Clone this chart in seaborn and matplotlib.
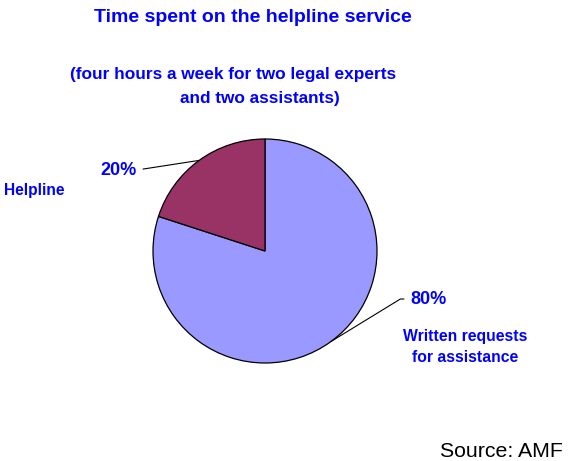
import matplotlib
matplotlib.use("Agg")
import matplotlib.pyplot as plt
import seaborn as sns
import numpy as np

labels = ["Written requests\nfor assistance", "Helpline"]
shares = [80, 20]
pct_labels = ["80%", "20%"]
colors = ["#9999FF", "#993366"]

sns.set_theme(style="white")
plt.rcParams["font.family"] = ["Liberation Sans", "DejaVu Sans"]

W, H = 568, 461
fig = plt.figure(figsize=(W / 100, H / 100), dpi=100)
fig.patch.set_facecolor("white")

def fx(x):
    return x / W

def fy(y):
    return 1 - y / H

cx, cy, r = 265, 251, 112
ax = fig.add_axes([(cx - r) / W, (H - cy - r) / H, 2 * r / W, 2 * r / H])
wedges, _ = ax.pie(shares, colors=colors, startangle=90, counterclock=False,
                   wedgeprops=dict(edgecolor="black", linewidth=0.9))
ax.set_xlim(-1.0, 1.0)
ax.set_ylim(-1.0, 1.0)
ax.set_aspect("equal")
ax.axis("off")

blue = "#0000FF"
fig.text(fx(252.5), fy(17), "Time spent on the helpline service", ha="center", va="center",
         fontsize=14, fontweight="bold", color=blue)
fig.text(fx(70), fy(74), "(four hours a week for two legal experts", ha="left", va="center",
         fontsize=12.45, fontweight="bold", color=blue)
fig.text(fx(180), fy(98), "and two assistants)", ha="left", va="center",
         fontsize=12.45, fontweight="bold", color=blue)

# leader lines to wedge mid-angles
mids = [np.deg2rad((w.theta1 + w.theta2) / 2) for w in wedges]
# 80%
a = mids[0]
ax.annotate(pct_labels[0], xy=(np.cos(a), np.sin(a)), xycoords="data",
            xytext=(410, H - 299), textcoords="figure pixels",
            ha="left", va="center", fontsize=13, fontweight="bold", color=blue,
            arrowprops=dict(arrowstyle="-", color="black", lw=0.8, relpos=(0, 0.5),
                            shrinkA=2, shrinkB=0,
                            connectionstyle="angle,angleA=0,angleB=31.5,rad=0"),
            annotation_clip=False)
# 20%
a = mids[1]
ax.annotate(pct_labels[1], xy=(np.cos(a), np.sin(a)), xycoords="data",
            xytext=(137, H - 170), textcoords="figure pixels",
            ha="right", va="center", fontsize=13, fontweight="bold", color=blue,
            arrowprops=dict(arrowstyle="-", color="black", lw=0.8, relpos=(1, 0.5),
                            shrinkA=2, shrinkB=0),
            annotation_clip=False)

fig.text(fx(4), fy(191), labels[1], ha="left", va="center",
         fontsize=11.2, fontweight="bold", color=blue)
fig.text(fx(465), fy(347), labels[0], ha="center", va="center",
         fontsize=11.3, fontweight="bold", color=blue, linespacing=1.45)

fig.text(fx(563), fy(451), "Source: AMF", ha="right", va="center",
         fontsize=15.3, color="black")

fig.savefig("out.png", dpi=100, facecolor="white")
